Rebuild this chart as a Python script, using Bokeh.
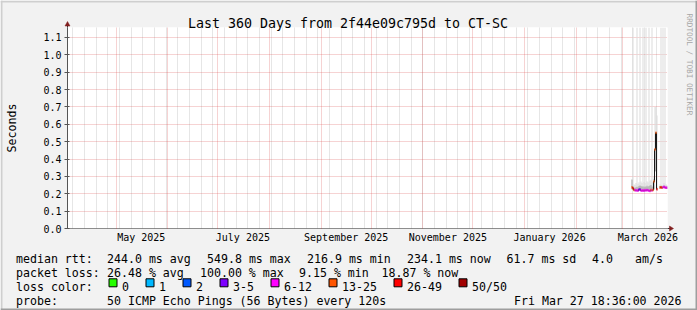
import numpy as np
import pandas as pd
from bokeh.plotting import figure
from bokeh.models import (Range1d, DatetimeAxis, LinearAxis, FixedTicker, Grid, GridBox,
                          DatetimeTickFormatter, PrintfTickFormatter, CustomJSTickFormatter,
                          ColumnDataSource)
from bokeh.core.properties import value
from bokeh.embed import file_html
from bokeh.resources import INLINE

# ------------------------------------------------------------------ data
title_text = "Last 360 Days from 2f44e09c795d to CT-SC"
end_time = "2026-03-27 18:36:00"
span_days = 360
rra_step_s = 51840                      # one consolidated sample per pixel column
first_sample = "2026-03-06 11:24:00"

# median RTT (seconds) per consolidated sample, NaN = no data
median_s = [0.238, 0.232, 0.222, 0.221, 0.219, 0.220, 0.218, 0.224, 0.226, 0.219,
            0.218, 0.220, 0.217, 0.221, 0.219, 0.222, 0.220, 0.218, 0.216, 0.221,
            0.219, 0.222, 0.270, 0.455, 0.551, 0.226, np.nan, np.nan, 0.236, 0.238,
            0.234, 0.237, 0.240, 0.236, 0.234, 0.234]
# lowest ping, upper-quartile ping and highest ping of each sample (seconds)
smoke_low_s = [0.226, 0.222, 0.216, 0.215, 0.214, 0.215, 0.213, 0.216, 0.218, 0.214,
               0.213, 0.215, 0.212, 0.215, 0.214, 0.216, 0.215, 0.213, 0.212, 0.215,
               0.214, 0.216, 0.225, 0.330, 0.330, 0.220, np.nan, np.nan, 0.230, 0.231,
               0.229, 0.231, 0.233, 0.230, 0.229, 0.229]
smoke_core_s = [0.280, 0.245, 0.236, 0.233, 0.238, 0.240, 0.236, 0.245, 0.248, 0.244,
                0.240, 0.243, 0.238, 0.242, 0.240, 0.246, 0.241, 0.244, 0.247, 0.250,
                0.242, 0.240, 0.285, 0.460, 0.460, 0.235, np.nan, np.nan, 0.244, 0.246,
                0.242, 0.245, 0.248, 0.246, 0.243, 0.242]
smoke_top_s = [0.285, 1.250, 0.255, 0.250, 0.262, 1.250, 0.258, 0.266, 1.250, 0.270,
               0.262, 1.250, 0.268, 0.262, 1.250, 0.272, 0.266, 1.250, 0.275, 0.280,
               1.250, 0.268, 0.300, 0.700, 0.700, 0.650, np.nan, np.nan, 0.255, 1.250,
               0.250, 1.250, 0.262, 1.250, 0.255, 0.250]
# loss class of each sample (index into loss_labels)
loss_class = [5, 6, 5, 4, 4, 4, 4, 3, 3, 4,
              4, 4, 4, 4, 4, 4, 4, 4, 4, 5,
              4, 5, 5, 5, 5, 6, 4, 4, 5, 6,
              5, 4, 4, 4, 4, 4]

y_ticks = [0.0, 0.1, 0.2, 0.3, 0.4, 0.5, 0.6, 0.7, 0.8, 0.9, 1.0, 1.1]
y_max = 1.157
label_months = ["2025-05-01", "2025-07-01", "2025-09-01", "2025-11-01", "2026-01-01", "2026-03-01"]

loss_labels = ["0", "1", "2", "3-5", "6-12", "13-25", "26-49", "50/50"]
loss_colors = ["#26ff00", "#00b8ff", "#0059ff", "#7e00ff", "#ff00ff", "#ff5500", "#ff0000", "#a10000"]

rtt_label = "median rtt:"
rtt_stats = ["244.0 ms avg", "549.8 ms max", "216.9 ms min", "234.1 ms now", "61.7 ms sd", "4.0", "am/s"]
loss_label = "packet loss:"
loss_stats = ["26.48 % avg", "100.00 % max", "9.15 % min", "18.87 % now"]
color_label = "loss color:"
probe_label = "probe:"
probe_text = "50 ICMP Echo Pings (56 Bytes) every 120s"
stamp_text = "Fri Mar 27 18:36:00 2026"
y_label = "Seconds"
watermark = "RRDTOOL / TOBI OETIKER"

# ------------------------------------------------------------------ layout constants
W, H = 697, 310
FL, FR, FT, FB = 67, 667, 27, 228       # plot-area edges in canvas pixels
FONT = "DejaVu Sans Mono"
row_base = [258.3, 272.3, 286.3, 300.3]
rtt_x = [106.5, 206.5, 306.5, 406.5, 506, 591.5, 634.5]
loss_x = [106.5, 199.5, 298.5, 381]
swatch_text_x = [121.5, 158.5, 195.5, 232.5, 283.5, 341.5, 406.5, 471.5]

ms = lambda s: pd.Timestamp(s).value // 10**6
end_ms = ms(end_time)
start_ms = end_ms - span_days * 86400 * 1000
step_ms = rra_step_s * 1000
n = len(median_s)
t = [ms(first_sample) + i * step_ms for i in range(n)]

src = ColumnDataSource(dict(
    t=t, med=median_s, lo=smoke_low_s, core=smoke_core_s, top=smoke_top_s,
    col=[loss_colors[c] for c in loss_class],
))

month_ms = [pd.Timestamp(d).value // 10**6 for d in pd.date_range("2025-05-01", "2026-03-01", freq="MS")]
week_ms = [pd.Timestamp(d).value // 10**6 for d in pd.date_range("2025-04-05", "2026-03-27", freq="7D")]
label_ms = [(pd.Timestamp(m) + pd.Timedelta(days=15)).value // 10**6 for m in label_months]


def no_align(plot):
    try:
        plot.frame_align = False
    except AttributeError:
        pass


# ------------------------------------------------------------------ main chart
fig = figure(width=W, height=H, output_backend="svg", toolbar_location=None,
             x_range=Range1d(start_ms, end_ms), y_range=Range1d(0, y_max),
             x_axis_location=None, y_axis_location=None, title_location=None,
             min_border_left=FL, min_border_right=W - FR, min_border_top=FT,
             min_border_bottom=H - FB)
no_align(fig)
fig.grid.visible = False
fig.outline_line_color = None
fig.background_fill_color = "#ffffff"
fig.border_fill_color = "#f2f2f2"

fig.add_layout(Grid(dimension=0, ticker=FixedTicker(ticks=month_ms, minor_ticks=week_ms),
                    grid_line_color="#de5050", grid_line_alpha=0.5, grid_line_dash="1 1",
                    minor_grid_line_color="#8f8f8f", minor_grid_line_alpha=0.45,
                    minor_grid_line_dash="1 1"))
fig.add_layout(Grid(dimension=1, ticker=FixedTicker(ticks=y_ticks),
                    grid_line_color="#de5050", grid_line_alpha=0.5, grid_line_dash="1 1"))

yax = LinearAxis(ticker=FixedTicker(ticks=y_ticks), formatter=PrintfTickFormatter(format="%.1f"),
                 axis_line_color="#555555", major_tick_line_color="#555555",
                 major_tick_out=3, major_tick_in=2, minor_tick_line_color=None,
                 major_label_standoff=3, major_label_text_font=FONT,
                 major_label_text_font_size="10px", major_label_text_color="#000000")
fig.add_layout(yax, "left")

fmt = "%B %Y"
xlab = DatetimeAxis(ticker=FixedTicker(ticks=label_ms),
                    formatter=DatetimeTickFormatter(microseconds=fmt, milliseconds=fmt, seconds=fmt,
                                                    minsec=fmt, minutes=fmt, hourmin=fmt, hours=fmt,
                                                    days=fmt, months=fmt, years=fmt),
                    axis_line_color=None, major_tick_line_color=None, minor_tick_line_color=None,
                    major_tick_out=0, major_tick_in=0, major_label_standoff=3,
                    major_label_text_font=FONT, major_label_text_font_size="10px",
                    major_label_text_color="#000000")
fig.add_layout(xlab, "below")
xtick = DatetimeAxis(ticker=FixedTicker(ticks=month_ms, minor_ticks=week_ms),
                     formatter=CustomJSTickFormatter(code="return ''"), fixed_location=0,
                     axis_line_color="#1f1f1f", axis_line_width=1,
                     major_tick_line_color="#de5050", major_tick_out=3, major_tick_in=0,
                     minor_tick_line_color="#8f8f8f", minor_tick_out=2, minor_tick_in=0,
                     major_label_text_font_size="1px")
fig.add_layout(xtick, "below")

# smoke
fig.vbar(x="t", bottom="lo", top="top", width=step_ms, source=src, fill_color="#dcdcdc",
         line_color=None)
fig.vbar(x="t", bottom="lo", top="core", width=step_ms, source=src, fill_color="#a9a9a9",
         line_color=None)
# median line, coloured by loss
fig.step(x="t", y="med", mode="center", source=src, line_color="#1a1a1a", line_width=1)
fig.rect(x="t", y="med", width=step_ms, height=2.5, height_units="screen", source=src,
         fill_color="col", line_color=None)

# ------------------------------------------------------------------ overlay (frame decoration, legend)
ov = figure(width=W, height=H, output_backend="svg", toolbar_location=None,
            x_range=Range1d(0, W), y_range=Range1d(H, 0),
            x_axis_location=None, y_axis_location=None, title_location=None,
            min_border_left=0, min_border_right=0, min_border_top=0, min_border_bottom=0)
no_align(ov)
ov.grid.visible = False
ov.outline_line_color = None
ov.background_fill_color = None
ov.border_fill_color = None


def txt(s, X, Y, size, align="left", color="#000000", angle=0, baseline="alphabetic"):
    ov.text(x=[X], y=[Y], text=[s], text_font=value(FONT), text_font_size=value(f"{size}px"),
            text_color=color, text_align=align, text_baseline=baseline,
            angle=angle, angle_units="deg")


# 3-D frame shading
ov.quad(left=[0, 0], right=[W, 2], top=[0, 0], bottom=[2, H], fill_color="#cfcfcf", line_color=None)
ov.quad(left=[W - 2, 0], right=[W, W], top=[0, H - 2], bottom=[H, H], fill_color="#9e9e9e",
        line_color=None)

# axis arrows
ov.segment(x0=[FL, FR], y0=[FT, FB], x1=[FL, FR + 3], y1=[FT - 3, FB], line_color="#333333",
           line_width=1)
ov.patches(xs=[[FL - 2.5, FL + 2.5, FL], [FR + 2, FR + 2, FR + 6]],
           ys=[[FT - 1.5, FT - 1.5, FT - 6], [FB - 2.5, FB + 2.5, FB]],
           fill_color="#801f1f", line_color="#801f1f", line_width=0.5)

txt(title_text, 347.5, 23, 13.3, align="center")
txt(y_label, 11.6, 127.5, 11.6, align="center", angle=90, baseline="middle")
txt(watermark, 689.2, 13, 7.7, color="#a6a6a6", angle=-90, baseline="middle")

txt(rtt_label, 15.5, row_base[0], 11.6)
for s, x in zip(rtt_stats, rtt_x):
    txt(s, x, row_base[0], 11.6)
txt(loss_label, 15.5, row_base[1], 11.6)
for s, x in zip(loss_stats, loss_x):
    txt(s, x, row_base[1], 11.6)
txt(color_label, 15.5, row_base[2], 11.6)
ov.quad(left=[x - 13 for x in swatch_text_x], right=[x - 5 for x in swatch_text_x],
        top=[row_base[2] - 8] * len(swatch_text_x), bottom=[row_base[2]] * len(swatch_text_x),
        fill_color=loss_colors, line_color="#000000", line_width=1)
for lab, x in zip(loss_labels, swatch_text_x):
    txt(lab, x, row_base[2], 11.6)
txt(probe_label, 15.5, row_base[3], 11.6)
txt(probe_text, 106.5, row_base[3], 11.6)
txt(stamp_text, 681, row_base[3], 11.6, align="right")

p = GridBox(children=[(fig, 0, 0), (ov, 0, 0)])
open("out.html", "w").write(file_html(p, INLINE))
